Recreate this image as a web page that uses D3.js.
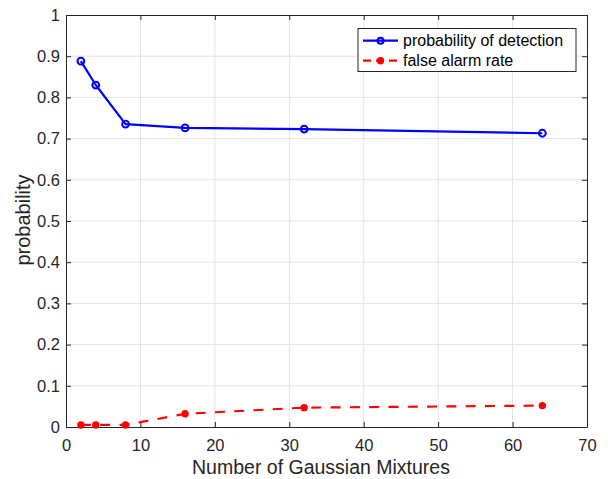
<!DOCTYPE html>
<html>
<head>
<meta charset="utf-8">
<script src="https://cdn.jsdelivr.net/npm/d3@7"></script>
<style>
  html, body { margin: 0; padding: 0; background: #fff; }
  svg { display: block; font-family: "Liberation Sans", Arial, Helvetica, sans-serif; }
</style>
</head>
<body>
<svg id="chart" width="608" height="479"></svg>
<script>
// Mixture counts and the two measured rates
const mixtures = [2, 4, 8, 16, 32, 64];
const detection = [0.888, 0.830, 0.735, 0.726, 0.723, 0.713];
const falseAlarm = [0.005, 0.005, 0.005, 0.032, 0.047, 0.052];
const xTicks = [0, 10, 20, 30, 40, 50, 60, 70];
const yTicks = [0, 0.1, 0.2, 0.3, 0.4, 0.5, 0.6, 0.7, 0.8, 0.9, 1];
const seriesNames = ["probability of detection", "false alarm rate"];

const svg = d3.select("#chart");
const m = { left: 66, top: 15, right: 587, bottom: 427 };
const x = d3.scaleLinear().domain([0, 70]).range([m.left, m.right]);
const y = d3.scaleLinear().domain([0, 1]).range([m.bottom, m.top]);
const axisColor = "#262626";

// grid
const grid = svg.append("g");
grid.selectAll("line.vx").data(xTicks.slice(1, -1)).join("line")
  .attr("x1", d => x(d)).attr("x2", d => x(d))
  .attr("y1", m.top).attr("y2", m.bottom)
  .attr("stroke", "#e3e3e3").attr("stroke-width", 1);
grid.selectAll("line.hy").data(yTicks.slice(1, -1)).join("line")
  .attr("y1", d => y(d)).attr("y2", d => y(d))
  .attr("x1", m.left).attr("x2", m.right)
  .attr("stroke", "#e3e3e3").attr("stroke-width", 1);

// axes with inward ticks on all four sides
const fmtX = d3.format("d");
const fmtY = d => d === 0 || d === 1 ? String(d) : d3.format(".1f")(d);
const bottomAxis = svg.append("g").attr("transform", `translate(0,${m.bottom})`)
  .call(d3.axisBottom(x).tickValues(xTicks).tickFormat(fmtX).tickSizeInner(-5).tickSizeOuter(0).tickPadding(12));
const leftAxis = svg.append("g").attr("transform", `translate(${m.left},0)`)
  .call(d3.axisLeft(y).tickValues(yTicks).tickFormat(fmtY).tickSizeInner(-5).tickSizeOuter(0).tickPadding(6));
const topAxis = svg.append("g").attr("transform", `translate(0,${m.top})`)
  .call(d3.axisTop(x).tickValues(xTicks).tickFormat("").tickSizeInner(-5).tickSizeOuter(0));
const rightAxis = svg.append("g").attr("transform", `translate(${m.right},0)`)
  .call(d3.axisRight(y).tickValues(yTicks).tickFormat("").tickSizeInner(-5).tickSizeOuter(0));
[bottomAxis, leftAxis, topAxis, rightAxis].forEach(g => {
  g.select(".domain").attr("stroke", axisColor).attr("stroke-width", 1);
  g.selectAll(".tick line").attr("stroke", axisColor);
  g.selectAll(".tick text").attr("fill", axisColor).attr("font-size", 16.5)
    .attr("font-family", "Liberation Sans, Arial, sans-serif");
});

// axis titles
svg.append("text").attr("x", 321).attr("y", 474).attr("text-anchor", "middle")
  .attr("font-size", 19.5).attr("fill", axisColor).text("Number of Gaussian Mixtures");
svg.append("text").attr("transform", `translate(30,${y(0.5) - 1}) rotate(-90)`)
  .attr("text-anchor", "middle").attr("font-size", 20).attr("fill", axisColor).text("probability");

// series
const detPts = mixtures.map((k, i) => [k, detection[i]]);
const faPts = mixtures.map((k, i) => [k, falseAlarm[i]]);
const line = d3.line().x(d => x(d[0])).y(d => y(d[1]));

svg.append("path").attr("d", line(detPts)).attr("fill", "none")
  .attr("stroke", "#0000ff").attr("stroke-width", 2.2).attr("stroke-linejoin", "round");
svg.append("g").selectAll("circle").data(detPts).join("circle")
  .attr("cx", d => x(d[0])).attr("cy", d => y(d[1])).attr("r", 3.4)
  .attr("fill", "none").attr("stroke", "#0000ff").attr("stroke-width", 2);

svg.append("path").attr("d", line(faPts)).attr("fill", "none")
  .attr("stroke", "#ff0000").attr("stroke-width", 2.2).attr("stroke-dasharray", "10,9.3");
svg.append("g").selectAll("circle").data(faPts).join("circle")
  .attr("cx", d => x(d[0])).attr("cy", d => y(d[1])).attr("r", 3.7)
  .attr("fill", "#ff0000");

// legend
const lg = svg.append("g");
lg.append("rect").attr("x", 358).attr("y", 28.5).attr("width", 218).attr("height", 43)
  .attr("fill", "#fff").attr("stroke", axisColor).attr("stroke-width", 1);
const rows = [
  { name: seriesNames[0], color: "#0000ff", dash: null, filled: false, cy: 40.7 },
  { name: seriesNames[1], color: "#ff0000", dash: "8,5", filled: true, cy: 60.7 }
];
rows.forEach(r => {
  lg.append("line").attr("x1", 363).attr("x2", 398).attr("y1", r.cy).attr("y2", r.cy)
    .attr("stroke", r.color).attr("stroke-width", 2.2)
    .attr("stroke-dasharray", r.dash);
  lg.append("circle").attr("cx", 380.5).attr("cy", r.cy).attr("r", r.filled ? 3.7 : 3)
    .attr("fill", r.filled ? r.color : "none").attr("stroke", r.filled ? "none" : r.color)
    .attr("stroke-width", 2);
  lg.append("text").attr("x", 403).attr("y", r.cy + 5.6).attr("font-size", 16)
    .attr("fill", "#000").text(r.name);
});
</script>
</body>
</html>
